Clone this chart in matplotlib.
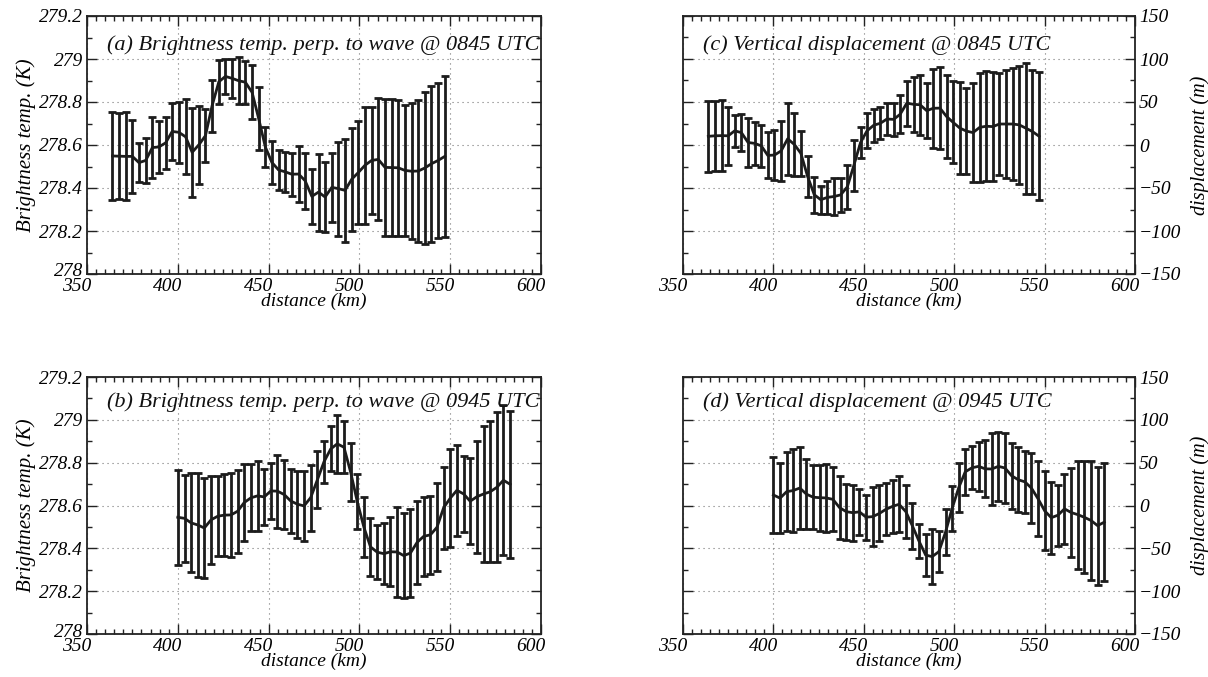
import numpy as np
import matplotlib
matplotlib.use('Agg')
import matplotlib.pyplot as plt
from matplotlib.ticker import MultipleLocator
from matplotlib.transforms import ScaledTranslation

plt.rcParams['font.family'] = ['Liberation Serif', 'DejaVu Serif']
plt.rcParams['font.style'] = 'italic'
plt.rcParams['axes.unicode_minus'] = True

# ---------------- data ----------------
dist_0845 = [364.0, 367.7, 371.3, 375.0, 378.6, 382.3, 386.0, 389.6, 393.3, 396.9,
             400.6, 404.3, 407.9, 411.6, 415.2, 418.9, 422.6, 426.2, 429.9, 433.5,
             437.2, 440.9, 444.5, 448.2, 451.8, 455.5, 459.2, 462.8, 466.5, 470.1,
             473.8, 477.5, 481.1, 484.8, 488.4, 492.1, 495.8, 499.4, 503.1, 506.7,
             510.4, 514.1, 517.7, 521.4, 525.0, 528.7, 532.4, 536.0, 539.7, 543.3, 547.0]
dist_0945 = [400.0, 403.7, 407.3, 411.0, 414.6, 418.3, 422.0, 425.6, 429.3, 432.9,
             436.6, 440.3, 443.9, 447.6, 451.2, 454.9, 458.6, 462.2, 465.9, 469.5,
             473.2, 476.9, 480.5, 484.2, 487.8, 491.5, 495.2, 498.8, 502.5, 506.1,
             509.8, 513.5, 517.1, 520.8, 524.4, 528.1, 531.8, 535.4, 539.1, 542.7,
             546.4, 550.1, 553.7, 557.4, 561.0, 564.7, 568.4, 572.0, 575.7, 579.3, 583.0]

tb_0845 = [278.549, 278.548, 278.547, 278.547, 278.518, 278.528, 278.588, 278.591, 278.610, 278.663,
           278.659, 278.638, 278.566, 278.601, 278.643, 278.783, 278.894, 278.919, 278.910, 278.899,
           278.892, 278.845, 278.724, 278.591, 278.519, 278.484, 278.475, 278.464, 278.465, 278.434,
           278.361, 278.381, 278.358, 278.403, 278.397, 278.389, 278.441, 278.472, 278.506, 278.528,
           278.533, 278.496, 278.495, 278.494, 278.482, 278.478, 278.479, 278.493, 278.513, 278.528, 278.547]
tb_err_0845 = [0.204, 0.200, 0.205, 0.171, 0.089, 0.104, 0.143, 0.121, 0.120, 0.134,
               0.141, 0.175, 0.208, 0.182, 0.123, 0.121, 0.103, 0.083, 0.092, 0.108,
               0.100, 0.125, 0.145, 0.091, 0.099, 0.092, 0.094, 0.101, 0.130, 0.131,
               0.129, 0.179, 0.164, 0.159, 0.218, 0.239, 0.239, 0.239, 0.273, 0.248,
               0.284, 0.318, 0.320, 0.316, 0.304, 0.317, 0.331, 0.353, 0.362, 0.362, 0.373]

tb_0945 = [278.545, 278.540, 278.519, 278.509, 278.495, 278.533, 278.550, 278.555, 278.556, 278.573,
           278.614, 278.636, 278.645, 278.640, 278.668, 278.667, 278.651, 278.621, 278.606, 278.598,
           278.637, 278.721, 278.804, 278.864, 278.888, 278.872, 278.755, 278.619, 278.498, 278.407,
           278.382, 278.375, 278.384, 278.383, 278.366, 278.378, 278.428, 278.456, 278.463, 278.498,
           278.590, 278.635, 278.671, 278.654, 278.620, 278.641, 278.654, 278.664, 278.685, 278.718, 278.699]
tb_err_0945 = [0.222, 0.204, 0.231, 0.243, 0.234, 0.205, 0.187, 0.192, 0.197, 0.195,
               0.178, 0.157, 0.162, 0.132, 0.129, 0.171, 0.162, 0.150, 0.156, 0.165,
               0.154, 0.132, 0.099, 0.105, 0.136, 0.122, 0.136, 0.129, 0.140, 0.134,
               0.125, 0.143, 0.161, 0.212, 0.198, 0.206, 0.195, 0.183, 0.183, 0.206,
               0.192, 0.230, 0.212, 0.179, 0.202, 0.262, 0.319, 0.329, 0.350, 0.349, 0.344]

disp_0845 = [10.1, 10.7, 10.9, 10.7, 16.5, 14.4, 2.9, 1.9, -1.0, -12.1,
             -11.7, -6.8, 7.2, 0.6, -9.7, -36.4, -57.8, -63.6, -60.9, -59.9,
             -58.0, -48.6, -23.7, 2.9, 16.5, 23.0, 25.3, 30.2, 29.8, 35.7,
             48.7, 47.3, 46.8, 39.9, 42.7, 42.9, 33.1, 26.3, 19.7, 16.2,
             14.4, 20.5, 21.8, 21.4, 24.4, 24.4, 24.4, 23.4, 19.5, 15.6, 10.1]
disp_err_0845 = [41.2, 40.7, 41.2, 34.0, 18.5, 21.4, 28.2, 25.3, 24.3, 26.8,
                 29.2, 35.2, 42.2, 36.4, 26.1, 23.9, 20.8, 16.1, 18.9, 21.8,
                 19.8, 25.3, 29.6, 18.5, 20.4, 19.1, 18.7, 18.5, 18.9, 22.0,
                 26.1, 31.8, 35.1, 32.2, 45.8, 47.9, 48.7, 47.7, 53.6, 50.1,
                 57.3, 63.3, 63.9, 63.5, 59.4, 62.5, 65.3, 68.2, 76.0, 72.1, 74.4]

disp_0945 = [12.3, 8.6, 16.1, 17.5, 20.4, 13.2, 9.7, 9.1, 8.8, 7.2,
             -2.5, -7.2, -8.4, -7.4, -13.6, -13.0, -9.3, -4.5, -1.0, 1.4,
             -7.0, -23.9, -41.4, -57.8, -59.7, -53.9, -31.1, -3.7, 20.8, 39.3,
             44.0, 45.7, 42.8, 42.6, 45.7, 43.8, 34.6, 30.1, 27.6, 20.4,
             7.8, -6.4, -14.2, -11.3, -3.9, -8.2, -10.7, -13.8, -17.5, -23.5, -19.5]
disp_err_0945 = [44.2, 40.8, 46.1, 48.6, 47.7, 41.2, 37.7, 38.3, 39.9, 37.5,
                 36.4, 32.5, 32.5, 26.8, 26.1, 34.4, 32.7, 30.5, 31.3, 32.5,
                 31.1, 26.6, 20.0, 24.7, 31.7, 23.9, 27.2, 26.3, 28.6, 26.8,
                 25.3, 28.2, 33.1, 41.8, 39.9, 40.7, 38.5, 37.9, 36.6, 40.7,
                 43.6, 46.1, 42.2, 35.4, 40.8, 52.1, 63.2, 65.2, 70.0, 69.0, 69.2]

titles = ['(a) Brightness temp. perp. to wave @ 0845 UTC',
          '(b) Brightness temp. perp. to wave @ 0945 UTC',
          '(c) Vertical displacement @ 0845 UTC',
          '(d) Vertical displacement @ 0945 UTC']
xlabel = 'distance (km)'
ylabel_tb = 'Brightness temp. (K)'
ylabel_disp = 'displacement (m)'

# ---------------- figure ----------------
W, H = 1208, 677
fig = plt.figure(figsize=(W / 100, H / 100), dpi=100)


def px_axes(l, t, r, b):
    return fig.add_axes([l / W, 1 - b / H, (r - l) / W, (b - t) / H])


ax_a = px_axes(87, 16, 541, 274)
ax_c = px_axes(683, 16, 1135, 274)
ax_b = px_axes(87, 377, 541, 634)
ax_d = px_axes(683, 377, 1135, 634)

col = '#1c1c1c'

panels = [
    (ax_a, dist_0845, tb_0845, tb_err_0845, titles[0], 'tb', 0.886),
    (ax_b, dist_0945, tb_0945, tb_err_0945, titles[1], 'tb', 0.902),
    (ax_c, dist_0845, disp_0845, disp_err_0845, titles[2], 'disp', 0.886),
    (ax_d, dist_0945, disp_0945, disp_err_0945, titles[3], 'disp', 0.902),
]

for ax, x, y, e, title, kind, ty in panels:
    ax.errorbar(x, y, yerr=e, fmt='-', color=col, lw=2.0, elinewidth=2.0,
                capsize=2.8, capthick=2.0, zorder=3)
    ax.set_xlim(350, 600)
    ax.xaxis.set_major_locator(MultipleLocator(50))
    ax.xaxis.set_minor_locator(MultipleLocator(5))
    if kind == 'tb':
        ax.set_ylim(278, 279.2)
        ax.set_yticks([278, 278.2, 278.4, 278.6, 278.8, 279, 279.2])
        ax.set_yticklabels(['278', '278.2', '278.4', '278.6', '278.8', '279', '279.2'])
        ax.yaxis.set_minor_locator(MultipleLocator(0.1))
        ax.set_ylabel(ylabel_tb, fontsize=15, labelpad=2)
    else:
        ax.set_ylim(-150, 150)
        ax.yaxis.set_major_locator(MultipleLocator(50))
        ax.yaxis.set_minor_locator(MultipleLocator(25))
        ax.yaxis.set_label_position('right')
        ax.set_ylabel(ylabel_disp, fontsize=14.5, labelpad=6)
    ax.grid(True, which='major', linestyle=(0, (1, 3.5)), color='#777777', lw=0.8)
    ax.set_axisbelow(True)
    ax.tick_params(which='both', direction='in', top=True, right=True, bottom=True, left=True,
                   labelsize=14, width=1.0, color='#222222')
    ax.tick_params(which='major', length=7, pad=3)
    ax.tick_params(which='minor', length=3.5)
    if kind == 'disp':
        ax.tick_params(labelleft=False, labelright=True)
    for s in ax.spines.values():
        s.set_linewidth(1.3)
        s.set_color('#222222')
    ax.set_xlabel(xlabel, fontsize=14)
    ax.xaxis.set_label_coords(0.5, -0.074)
    ax.text(0.044, ty, title, transform=ax.transAxes, fontsize=16,
            ha='left', va='center', color='#111111')
    # shift x tick labels slightly left like the original
    off = ScaledTranslation(-10 / 100, 0, fig.dpi_scale_trans)
    for lab in ax.get_xticklabels():
        lab.set_transform(lab.get_transform() + off)
    if kind == 'tb':
        # nudge the lowest y label up a touch so it does not collide with "350"
        up = ScaledTranslation(0, 4 / 100, fig.dpi_scale_trans)
        lab0 = ax.yaxis.get_major_ticks()[0].label1
        lab0.set_transform(lab0.get_transform() + up)

fig.savefig('out.png', dpi=100)
